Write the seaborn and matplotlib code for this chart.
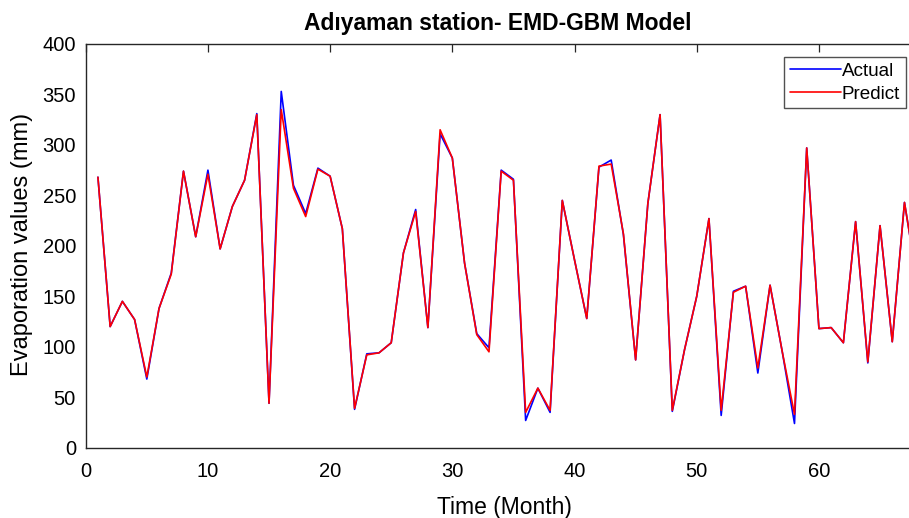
import numpy as np
import matplotlib
matplotlib.use("Agg")
import matplotlib.pyplot as plt
import pandas as pd
import seaborn as sns

# Monthly evaporation (mm)
months = list(range(1, 69))
actual = [268, 120, 145, 127, 68, 138, 173, 274, 209, 275,
          197, 239, 265, 331, 44, 353, 260, 232, 277, 269,
          217, 38, 93, 94, 104, 193, 236, 119, 311, 287,
          183, 113, 99, 275, 266, 27, 59, 35, 245, 186,
          128, 278, 285, 211, 87, 242, 330, 36, 97, 150,
          227, 32, 155, 160, 74, 161, 95, 24, 297, 118,
          119, 104, 224, 84, 220, 105, 243, 168]
predict = [268, 120, 145, 127, 70, 138, 172, 274, 209, 271,
           197, 239, 265, 330, 44, 335, 257, 229, 276, 269,
           217, 39, 92, 94, 104, 193, 234, 119, 315, 287,
           183, 112, 95, 274, 265, 35, 59, 37, 245, 186,
           128, 279, 281, 212, 87, 242, 330, 37, 97, 150,
           227, 37, 154, 160, 79, 161, 95, 33, 297, 118,
           119, 104, 224, 85, 220, 105, 243, 168]
x_ticks = [0, 10, 20, 30, 40, 50, 60]
y_ticks = [0, 50, 100, 150, 200, 250, 300, 350, 400]


def main():
    sns.set_style("white")
    plt.rcParams['font.family'] = ['Liberation Sans', 'DejaVu Sans']
    plt.rcParams['text.color'] = 'black'
    plt.rcParams['axes.labelcolor'] = 'black'

    df = pd.DataFrame({'Month': months, 'Actual': actual, 'Predict': predict})
    long_df = df.melt(id_vars='Month', var_name='Series', value_name='Evaporation')

    fig = plt.figure(figsize=(9.09, 5.18), dpi=100)
    ax = fig.add_axes([0.0943, 0.1357, 0.9057, 0.7794])

    sns.lineplot(data=long_df, x='Month', y='Evaporation', hue='Series',
                 palette={'Actual': '#0000ff', 'Predict': '#ff0000'},
                 linewidth=1.2, ax=ax, legend=True)

    ax.set_xlim(0, 67.37)
    ax.set_ylim(0, 400)
    ax.set_xticks(x_ticks)
    ax.set_yticks(y_ticks)

    for side in ['left', 'bottom', 'top']:
        ax.spines[side].set_color('#262626')
        ax.spines[side].set_linewidth(1.0)
    ax.spines['right'].set_visible(False)

    ax.tick_params(axis='x', direction='in', length=6, width=0.9, color='#262626',
                   top=True, labelsize=14.5, pad=10, labelcolor='black')
    ax.tick_params(axis='y', direction='in', length=6, width=0.9, color='#262626',
                   right=False, labelsize=14.5, pad=7, labelcolor='black')

    ax.set_title('Adıyaman station- EMD-GBM Model', fontsize=16.5,
                 fontweight='bold', pad=10)
    ax.set_xlabel('Time (Month)', fontsize=16.5, va='top')
    ax.set_ylabel('Evaporation values (mm)', fontsize=17)
    ax.xaxis.set_label_coords(0.509, -0.119)
    ax.yaxis.set_label_coords(-0.064, 0.503)

    leg = ax.legend(title=None, loc='upper right', bbox_to_anchor=(0.996, 0.968),
                    fontsize=13.6, frameon=True, fancybox=False,
                    handlelength=2.7, handletextpad=0.05, labelspacing=0.3,
                    borderpad=0.3, borderaxespad=0)
    leg.get_frame().set_edgecolor('#262626')
    leg.get_frame().set_linewidth(1.0)
    for text in leg.get_texts():
        text.set_color('black')
    for line in leg.get_lines():
        line.set_linewidth(1.2)

    fig.savefig('out.png', dpi=100)
    plt.close(fig)


if __name__ == "__main__":
    main()
